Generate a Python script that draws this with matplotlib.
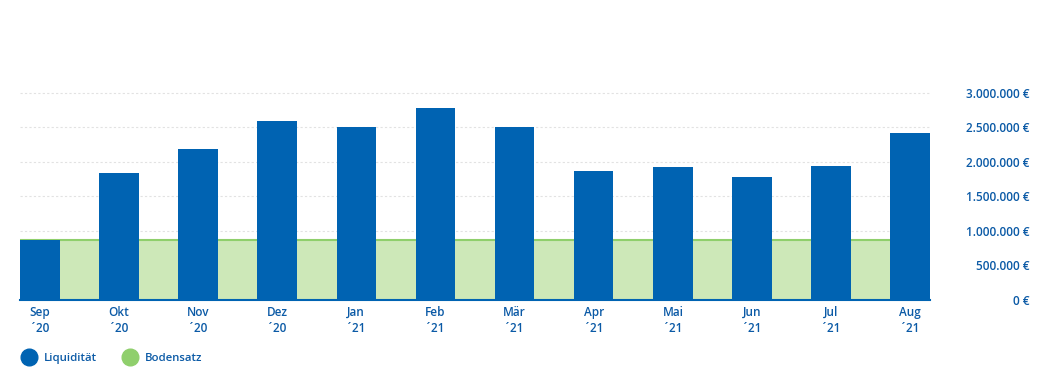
import matplotlib
matplotlib.use("Agg")
import matplotlib.pyplot as plt
from matplotlib.lines import Line2D

months = ["Sep", "Okt", "Nov", "Dez", "Jan", "Feb", "Mär", "Apr", "Mai", "Jun", "Jul", "Aug"]
years = ["´20", "´20", "´20", "´20", "´21", "´21", "´21", "´21", "´21", "´21", "´21", "´21"]
liquiditaet = [870000, 1840000, 2190000, 2595000, 2505000, 2785000, 2505000, 1870000, 1930000, 1785000, 1940000, 2420000]
bodensatz = [870000] * 12
yticks = [0, 500000, 1000000, 1500000, 2000000, 2500000, 3000000]

blue = "#0063b2"
green_line = "#8fcf6c"
green_fill = "#cde8b8"
text_blue = "#0b5aa6"

plt.rcParams["font.family"] = ["Open Sans", "DejaVu Sans"]

fig = plt.figure(figsize=(10.38, 3.79), dpi=100)
ax = fig.add_axes([20 / 1038, 1 - 300 / 379, 910 / 1038, 207 / 379])

x = list(range(len(months)))
# Bodensatz area spans the whole plot width
xs = [-0.25] + x[1:-1] + [11.25]
ax.fill_between(xs, 0, bodensatz, color=green_fill, zorder=1, linewidth=0)
ax.plot(xs, bodensatz, color=green_line, lw=1.5, zorder=2)
ax.bar(x, liquiditaet, width=0.5, color=blue, zorder=3)

ax.set_xlim(-0.25, 11.25)
ax.set_ylim(0, 3000000)

ax.set_yticks(yticks)
ax.set_yticklabels([f"{v:,.0f} €".replace(",", ".") for v in yticks])
ax.yaxis.tick_right()
ax.tick_params(axis="y", length=0, pad=72, labelsize=8.5, labelcolor=text_blue)
for lab in ax.get_yticklabels():
    lab.set_horizontalalignment("right")
    lab.set_fontweight("semibold")

ax.set_xticks(x)
ax.set_xticklabels([f"{m}\n{y}" for m, y in zip(months, years)], linespacing=1.3)
ax.tick_params(axis="x", length=0, pad=4, labelsize=8.5, labelcolor=text_blue)
for lab in ax.get_xticklabels():
    lab.set_fontweight("semibold")

for v in yticks[1:]:
    ax.axhline(v, color="#e2e2e2", lw=0.8, ls=(0, (2, 2)), zorder=0, clip_on=False)

for s in ["top", "right", "left"]:
    ax.spines[s].set_visible(False)
ax.spines["bottom"].set_color(blue)
ax.spines["bottom"].set_linewidth(1.5)
ax.spines["bottom"].set_zorder(4)

handles = [
    Line2D([], [], marker="o", ls="", markersize=12, color=blue),
    Line2D([], [], marker="o", ls="", markersize=12, color="#8fcf6c"),
]
leg = fig.legend(handles, ["Liquidität", "Bodensatz"], loc="center left",
                 bbox_to_anchor=(0.009, 0.055), ncol=2, frameon=False,
                 prop={"size": 8.2, "weight": "semibold"}, labelcolor=text_blue,
                 handlelength=1.6, handletextpad=0.5, columnspacing=2.1)

fig.savefig("out.png", dpi=100)
